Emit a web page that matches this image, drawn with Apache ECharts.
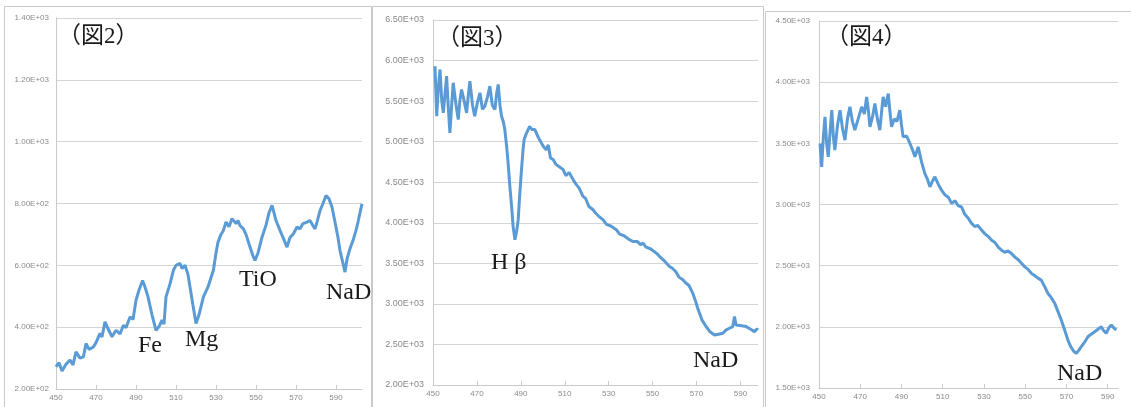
<!DOCTYPE html>
<html>
<head>
<meta charset="utf-8">
<script src="https://cdn.jsdelivr.net/npm/echarts@6/dist/echarts.min.js"></script>
<style>html,body{margin:0;padding:0;background:#fff;}#c{width:1131px;height:407px;}</style>
</head>
<body>
<div id="c"></div>
<script>
// ---- data ----
const xTickStart = 450, xTickStep = 20;
const fig2Wave = [450,451.5,453,455,457,458.5,460,462,463.7,465,466.5,468.7,470,472,473,474.5,476,478,480,482,483.7,485,487,488.5,490,491.5,493.3,494.5,496,498,500,501.5,503,504,505,507,508.7,510,512,513,514.5,516,517,518.5,520,521.5,523.7,526,528.7,530,531,532.5,533.7,535,536.5,538,540,541,542,543.7,545,547,548.5,549.5,551,553,555,556.5,558,559,560,562,563.5,565.5,567,568.5,570.5,572,573.5,575.5,577,578.5,579.5,580.5,582,583.5,585,586.5,588,589.5,591,592,593,594.5,595.5,597,598.5,600,601,602,603];
const fig2Flux = [272,285,258,280,294,278,320,300,304,347,328,336,350,380,368,417,395,369,390,378,406,398,433,425,487,520,551,530,498,440,390,402,423,410,498,540,584,600,606,590,600,570,530,470,412,440,498,530,584,640,675,700,713,740,725,751,735,745,729,718,700,659,630,616,640,691,730,770,794,770,745,713,690,659,690,700,724,718,735,740,745,728,718,740,777,800,826,815,788,740,690,648,620,578,620,654,680,713,740,770,799];
const fig3Wave = [450.9,451.7,452.4,453.2,454,454.7,455.5,456.2,457,457.7,458.5,459.2,460.5,461.5,462.2,463,464.2,465.3,466,466.8,468,469,470.2,471.4,472.5,473.6,474.8,475.9,477,478.2,479,479.7,480.5,481.2,482,482.7,483.5,484.2,485,485.8,486.5,487.3,488,488.8,489.5,490.3,491,491.5,492.5,494,495,496.4,498,500.2,501.5,502.5,503.5,504.7,506,507.5,509.3,510.5,512,513.8,515,516.5,518.3,519.5,521,522.9,524,525.5,527.4,529,531,533.5,535,537,539.5,541,543,544.5,545.6,547,549,551.7,553,555,557.7,559,560.5,562,563.8,565,566.5,568.3,569.5,570.5,571.4,572.5,574.4,576,578.2,580,582,583.5,585,586.5,587.3,588,588.8,590.5,592.6,594.5,596.4,597.5,598];
const fig3Flux = [5931,5313,5650,5890,5500,5355,5600,5808,5400,5108,5450,5726,5450,5273,5500,5643,5500,5355,5550,5746,5450,5313,5480,5602,5400,5437,5550,5684,5450,5396,5600,5705,5450,5313,5250,5149,4950,4738,4450,4202,3950,3791,3880,4038,4350,4655,4900,5026,5100,5190,5150,5149,5050,4943,4900,4960,4800,4779,4720,4690,4655,4580,4620,4532,4480,4430,4326,4300,4200,4161,4120,4080,4038,3980,3960,3914,3860,3840,3791,3770,3770,3730,3750,3700,3680,3626,3590,3540,3461,3440,3400,3330,3297,3260,3230,3132,3040,2950,2885,2800,2720,2660,2617,2625,2638,2680,2700,2720,2844,2740,2720,2730,2720,2690,2658,2690,2679];
const fig4Wave = [450.5,451.3,452.1,452.9,453.7,454.5,455.4,456.2,457,457.7,459,460.2,461.4,462.6,463.8,465,466.2,467.4,469,470.7,472,473.1,474,474.7,476,477.1,478.3,479.5,480.3,481.1,482.3,483.6,484.4,485.2,486.5,487.8,489.2,490,490.8,492.5,494.1,495.3,496.5,497.3,498.1,499.7,501.3,502.5,503.8,505,506.2,508,509.4,511,512.7,514.3,516,517.5,519.1,520.7,522.3,524,525.5,527,528.8,530.5,532,533.6,535.3,537,538.5,540,541.7,543.3,545,546.5,548.2,549.8,551.4,553,554.5,556,557.8,559.4,561,562.6,564.3,566,567.5,569,570.7,572,573.5,574.8,576,577.2,579,580.4,582,583.7,585.3,586.9,588,589.3,590.5,591.8,593,594.2];
const fig4Flux = [3499,3308,3550,3716,3500,3390,3600,3771,3550,3444,3650,3771,3620,3526,3700,3798,3680,3608,3700,3798,3740,3880,3760,3635,3720,3826,3700,3608,3750,3880,3800,3907,3760,3635,3700,3680,3771,3650,3553,3560,3499,3450,3390,3430,3471,3350,3254,3210,3145,3190,3226,3160,3118,3080,3060,3009,3030,2990,2981,2920,2890,2846,2820,2830,2791,2760,2740,2709,2690,2650,2627,2610,2620,2600,2570,2550,2519,2490,2470,2437,2420,2400,2382,2330,2274,2240,2192,2120,2056,1980,1892,1840,1800,1783,1810,1838,1880,1919,1940,1960,1980,2001,1970,1947,1990,2015,1990,1974];
const fig2Y = {min:200, max:1400, step:200};
const fig3Y = {min:2000, max:6500, step:500};
const fig4Y = {min:1500, max:4500, step:500};
const panelTitles = ['（図2）','（図3）','（図4）'];
const lineLabels2 = ['Fe','Mg','TiO','NaD'];
const lineLabels3 = ['H β','NaD'];
const lineLabels4 = ['NaD'];

// ---- chart ----
function fmt(v){
  if(v===0) return '0';
  const e = Math.floor(Math.log10(v)+1e-9);
  const m = (v/Math.pow(10,e)).toFixed(2);
  return m+'E+'+String(e).padStart(2,'0');
}
const pairs = (w,f)=>w.map((x,i)=>[x,f[i]]);
const grids = [
  {left:56, top:18, width:306, height:371},
  {left:433, top:20, width:325, height:365},
  {left:819, top:21, width:299, height:367}
];
const xMax = [603, 598, 595];
const ys = [fig2Y, fig3Y, fig4Y];
const yFont = [8, 9, 8];
const gridColor = '#d4d4d4';
const lblColor = '#8a8a8a';
const xAxes = grids.map((g,i)=>({
  type:'value', gridIndex:i, min:xTickStart, max:xMax[i], interval:xTickStep,
  axisLine:{show:true, lineStyle:{color:'#cacaca'}},
  axisTick:{show:true, inside:true, length:4, lineStyle:{color:'#cacaca'}},
  splitLine:{show:false},
  axisLabel:{color:lblColor, fontSize:8, margin:5, showMaxLabel:false, fontFamily:'Liberation Sans'}
}));
const yAxes = grids.map((g,i)=>({
  type:'value', gridIndex:i, min:ys[i].min, max:ys[i].max, interval:ys[i].step,
  axisLine:{show:true, lineStyle:{color:'#cacaca'}},
  axisTick:{show:false},
  splitLine:{show:true, lineStyle:{color:gridColor, width:1}},
  axisLabel:{color:lblColor, fontSize:yFont[i], margin:i===0?7:9, fontFamily:'Liberation Sans', formatter:fmt}
}));
const series = [pairs(fig2Wave,fig2Flux), pairs(fig3Wave,fig3Flux), pairs(fig4Wave,fig4Flux)].map((d,i)=>({
  type:'line', xAxisIndex:i, yAxisIndex:i, data:d, showSymbol:false, smooth:false,
  lineStyle:{color:'#5b9bd5', width:3}, silent:true, animation:false
}));
const serif = '"Liberation Serif","Noto Sans CJK JP",serif';
function txt(x,y,s,size){
  return {type:'text', left:x, top:y, style:{text:s, font:'normal '+size+'px '+serif, fill:'#1a1a1a'}, z:10};
}
const graphics = [
  {type:'rect', shape:{x:4.5,y:6.5,width:367,height:410}, style:{fill:'none', stroke:'#c9c9c9', lineWidth:1}},
  {type:'rect', shape:{x:372.5,y:6.5,width:391,height:410}, style:{fill:'none', stroke:'#c9c9c9', lineWidth:1}},
  {type:'rect', shape:{x:765.5,y:11.5,width:380,height:410}, style:{fill:'none', stroke:'#c9c9c9', lineWidth:1}},
  txt(58,25,panelTitles[0],23),
  txt(437,27,panelTitles[1],23),
  txt(826,26,panelTitles[2],23),
  txt(138,334,lineLabels2[0],24),
  txt(185,328,lineLabels2[1],24),
  txt(239,268,lineLabels2[2],24),
  txt(326,281,lineLabels2[3],24),
  txt(491,251,lineLabels3[0],24),
  txt(693,349,lineLabels3[1],24),
  txt(1057,362,lineLabels4[0],24)
];
const chart = echarts.init(document.getElementById('c'), null, {renderer:'canvas'});
chart.setOption({
  animation:false,
  backgroundColor:'#fff',
  grid:grids,
  xAxis:xAxes,
  yAxis:yAxes,
  series:series,
  graphic:graphics
});
</script>
</body>
</html>
